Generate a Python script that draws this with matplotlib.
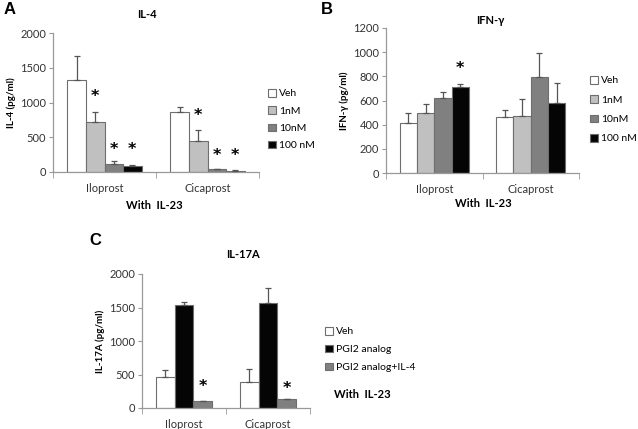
import numpy as np
import matplotlib
matplotlib.use("Agg")
import matplotlib.pyplot as plt

plt.rcParams['font.family'] = ['Lato', 'DejaVu Sans']

groups = ['Iloprost', 'Cicaprost']

# panel A: IL-4
a_labels = ['Veh', '1nM', '10nM', '100 nM']
a_vals = [[1330, 870], [725, 450], [120, 40], [85, 20]]
a_err = [[340, 60], [140, 160], [35, 5], [10, 8]]
a_star = [[None, None], [1083, 806], [317, 235], [317, 235]]

# panel B: IFN-gamma
b_labels = ['Veh', '1nM', '10nM', '100 nM']
b_vals = [[410, 460], [494, 470], [619, 794], [710, 583]]
b_err = [[88, 58], [73, 140], [50, 195], [26, 162]]
b_star = [[None, None], [None, None], [None, None], [866, None]]

# panel C: IL-17A
c_labels = ['Veh', 'PGI2 analog', 'PGI2 analog+IL-4']
c_vals = [[470, 385], [1535, 1565], [110, 130]]
c_err = [[95, 200], [40, 230], [0, 0]]
c_star = [[None, None], [None, None], [318, 284]]

grey4 = ['white', '#c0c0c0', '#808080', '#050505']
grey3 = ['white', '#050505', '#808080']

fig = plt.figure(figsize=(6.38, 4.29), dpi=100)
W, H = 638.0, 429.0

def box(l, t, r, b):
    return [l / W, 1 - b / H, (r - l) / W, (b - t) / H]

def panel(rect, vals, err, stars, labels, colors, width, ymax, step, ylab):
    ax = fig.add_axes(rect)
    x = np.arange(len(groups))
    n = len(vals)
    bars = []
    for i in range(n):
        pos = x + (i - (n - 1) / 2) * width
        b = ax.bar(pos, vals[i], width, color=colors[i], edgecolor='#6e6e6e',
                   linewidth=0.8, label=labels[i], zorder=2)
        bars.append(b)
        e = np.array(err[i])
        ax.errorbar(pos, vals[i], yerr=[np.zeros_like(e), e], fmt='none',
                    ecolor='#555555', elinewidth=0.9, capsize=2.5, capthick=0.9, zorder=3)
        for j, s in enumerate(stars[i]):
            if s is not None:
                ax.text(pos[j], s, '*', ha='center', va='center', fontsize=11.5,
                        fontweight='bold', family='DejaVu Sans')
    ax.set_xlim(-0.5, len(groups) - 0.5)
    ax.set_ylim(0, ymax)
    ax.set_yticks(np.arange(0, ymax + 1, step))
    ax.set_xticks(x)
    ax.set_xticklabels(groups)
    ax.set_xticks(np.arange(-0.5, len(groups), 1.0), minor=True)
    ax.tick_params(axis='x', which='major', length=0, pad=8, labelsize=8, labelcolor='#333333')
    ax.tick_params(axis='x', which='minor', length=4, color='#999999', direction='out')
    ax.tick_params(axis='y', length=3, color='#999999', labelsize=8, labelcolor='#333333', pad=2)
    for s in ['top', 'right']:
        ax.spines[s].set_visible(False)
    for s in ['left', 'bottom']:
        ax.spines[s].set_color('#999999')
        ax.spines[s].set_linewidth(0.9)
    ax.set_ylabel(ylab, fontsize=7, fontweight='bold', labelpad=3)
    return ax, bars

axA, barsA = panel(box(53, 33, 259, 172), a_vals, a_err, a_star, a_labels, grey4,
                   0.18, 2000, 500, 'IL-4 (pg/ml)')
axB, barsB = panel(box(386, 28, 579, 173), b_vals, b_err, b_star, b_labels, grey4,
                   0.18, 1200, 200, 'IFN-γ (pg/ml)')
axC, barsC = panel(box(142, 274, 310, 408), c_vals, c_err, c_star, c_labels, grey3,
                   0.226, 2000, 500, 'IL-17A (pg/ml)')

def legend(ax, bars, labels, x, y, sp):
    ax.legend(bars, labels, loc='upper left', bbox_to_anchor=(x / W, 1 - y / H),
              bbox_transform=fig.transFigure, frameon=False, fontsize=7.5,
              handlelength=0.75, handleheight=0.75, handletextpad=0.3,
              labelspacing=sp, borderpad=0, borderaxespad=0)

legend(axA, barsA, a_labels, 268, 89, 0.75)
legend(axB, barsB, b_labels, 590, 76, 0.95)
legend(axC, barsC, c_labels, 325, 327, 0.8)

# titles, x-titles and panel letters
fig.text(147 / W, 1 - 15 / H, 'IL-4', ha='center', va='center', fontsize=8, fontweight='bold')
fig.text(490 / W, 1 - 20 / H, 'IFN-γ', ha='center', va='center', fontsize=8, fontweight='bold')
fig.text(243 / W, 1 - 255 / H, 'IL-17A', ha='center', va='center', fontsize=8, fontweight='bold')
fig.text(154 / W, 1 - 206 / H, 'With  IL-23', ha='center', va='center', fontsize=8, fontweight='bold')
fig.text(483 / W, 1 - 203 / H, 'With  IL-23', ha='center', va='center', fontsize=8, fontweight='bold')
fig.text(362 / W, 1 - 395 / H, 'With  IL-23', ha='center', va='center', fontsize=8, fontweight='bold')
fig.text(10 / W, 1 - 10 / H, 'A', ha='center', va='center', fontsize=12, fontweight='bold',
         family='Liberation Sans')
fig.text(327 / W, 1 - 9 / H, 'B', ha='center', va='center', fontsize=12, fontweight='bold',
         family='Liberation Sans')
fig.text(95 / W, 1 - 241 / H, 'C', ha='center', va='center', fontsize=12, fontweight='bold',
         family='Liberation Sans')

fig.savefig('out.png', dpi=100)
